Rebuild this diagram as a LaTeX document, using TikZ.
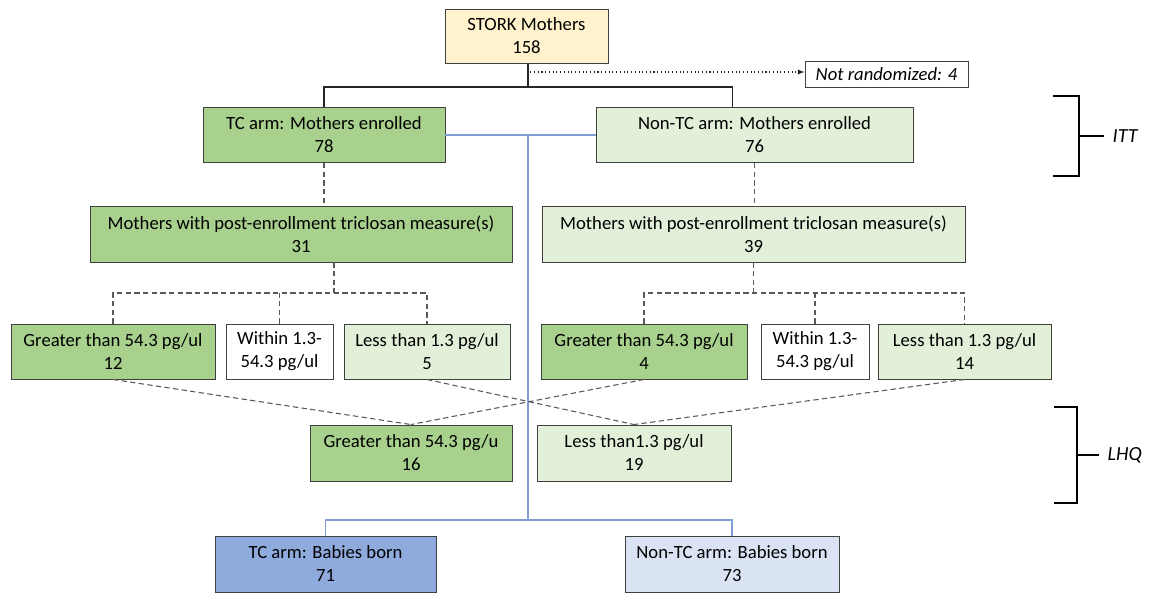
\documentclass[tikz,border=0pt]{standalone}
\usepackage{fontspec}
\setmainfont{Carlito}
\usetikzlibrary{arrows.meta, positioning}

\definecolor{giallo}{HTML}{FFF2CC}
\definecolor{verdescuro}{HTML}{A9D18E}
\definecolor{verdechiaro}{HTML}{E2F0D9}
\definecolor{blu}{HTML}{8FAADC}
\definecolor{bluchiaro}{HTML}{DAE3F3}
\definecolor{linea}{HTML}{7F9FD4}

\tikzset{
	box/.style={draw=black!75, line width=0.7pt, align=center, inner sep=0pt,
		font=\fontsize{14pt}{17.25pt}\selectfont},
	tratt/.style={black!65, line width=0.8pt, dash pattern=on 4pt off 2.5pt},
	filo/.style={black!85, line width=0.8pt},
	parentesi/.style={black, line width=1.4pt},
	etichetta/.style={anchor=west, font=\fontsize{15pt}{17pt}\selectfont\itshape},
}

\begin{document}
\begin{tikzpicture}[x=0.75pt, y=-0.75pt]
	
	\useasboundingbox (0,0) rectangle (1155,593);
	
	% Madri
	\node[box, fill=giallo, minimum width=122.25pt, minimum height=40.5pt] (stork) at (526.5,36) {STORK Mothers\\158};
	\node[box, minimum width=122.25pt, minimum height=19.5pt] (notrand) at (886.5,74) {\textit{Not randomized: 4}};
	
	% Bracci
	\node[box, fill=verdescuro, minimum width=181.5pt, minimum height=41.25pt] (tcarm) at (324,135) {TC arm: Mothers enrolled\\78};
	\node[box, fill=verdechiaro, minimum width=237.75pt, minimum height=41.25pt] (ntcarm) at (754.5,135) {Non-TC arm: Mothers enrolled\\76};
	
	% Misure post-arruolamento
	\node[box, fill=verdescuro, minimum width=316.5pt, minimum height=42pt] (tcpost) at (301,234) {Mothers with post-enrollment triclosan measure(s)\\31};
	\node[box, fill=verdechiaro, minimum width=317.25pt, minimum height=42pt] (ntcpost) at (753.5,234) {Mothers with post-enrollment triclosan measure(s)\\39};
	
	% Livelli TC
	\node[box, fill=verdescuro, minimum width=153pt, minimum height=41.25pt] (g12) at (113,351.5) {Greater than 54.3 pg/ul\\12};
	\node[box, fill=white, minimum width=80.25pt, minimum height=41.25pt] (w1) at (279.5,351.5) {Within 1.3-\\54.3 pg/ul};
	\node[box, fill=verdechiaro, minimum width=124.5pt, minimum height=41.25pt] (l5) at (427,351.5) {Less than 1.3 pg/ul\\5};
	
	% Livelli Non-TC
	\node[box, fill=verdescuro, minimum width=154.5pt, minimum height=41.25pt] (g4) at (644,351.5) {Greater than 54.3 pg/ul\\4};
	\node[box, fill=white, minimum width=81pt, minimum height=41.25pt] (w2) at (815,351.5) {Within 1.3-\\54.3 pg/ul};
	\node[box, fill=verdechiaro, minimum width=129.75pt, minimum height=41.25pt] (l14) at (964.5,351.5) {Less than 1.3 pg/ul\\14};
	
	% Gruppi LHQ
	\node[box, fill=verdescuro, minimum width=151.5pt, minimum height=42pt] (g16) at (411,453) {Greater than 54.3 pg/u\\16};
	\node[box, fill=verdechiaro, minimum width=145.5pt, minimum height=42pt] (l19) at (634,453) {Less than1.3 pg/ul\\19};
	
	% Bambini
	\node[box, fill=blu, minimum width=165.75pt, minimum height=42pt] (tcbaby) at (325.5,564) {TC arm: Babies born\\71};
	\node[box, fill=bluchiaro, minimum width=160.5pt, minimum height=42pt] (ntcbaby) at (732,564) {Non-TC arm: Babies born\\73};
	
	% Randomizzazione
	\coordinate (snodo) at (528,87);
	\draw[filo] (stork.south -| snodo) -- (snodo);
	\draw[filo] (tcarm.north) |- (snodo) -| ([xshift=-16.5pt]ntcarm.north);
	\draw[filo, dotted, -{Latex[length=5pt, width=4pt]}] (stork.south |- notrand.west) ++(0,-2) -- ([yshift=1.5pt]notrand.west);
	
	% Linee blu
	\coordinate (bsopra) at (528,135);
	\coordinate (bsotto) at (528,520);
	\draw[linea, line width=0.8pt] (tcarm.east) -- (ntcarm.west);
	\draw[linea, line width=0.8pt] (bsopra) -- (bsotto);
	\draw[linea, line width=0.8pt] (tcbaby.north) |- (bsotto) -| (ntcbaby.north);
	
	% Tratteggi braccio TC
	\coordinate (tsplit) at (334,293);
	\draw[tratt] (tcarm.south) -- (tcarm.south |- tcpost.north);
	\draw[tratt] (tcpost.south -| tsplit) -- (tsplit);
	\draw[tratt] (g12.north) |- (tsplit) -| (l5.north);
	\draw[tratt] (w1.north) -- (w1.north |- tsplit);
	
	% Tratteggi braccio Non-TC
	\coordinate (nsplit) at (753.5,293);
	\draw[tratt] (ntcarm.south) -- (ntcarm.south |- ntcpost.north);
	\draw[tratt] (ntcpost.south) -- (nsplit);
	\draw[tratt] (g4.north) |- (nsplit) -| (l14.north);
	\draw[tratt] (w2.north) -- (w2.north |- nsplit);
	
	% Incroci verso LHQ
	\draw[tratt] (g12.south) -- (g16.north);
	\draw[tratt] (g4.south) -- (g16.north);
	\draw[tratt] (l5.south) -- (l19.north);
	\draw[tratt] (l14.south) -- (l19.north);
	
	% Parentesi ITT e LHQ
	\draw[parentesi] (1053,96) -- (1079,96) -- (1079,176) -- (1053,176);
	\node[etichetta] (itt) at (1108,136) {ITT};
	\draw[parentesi] (1079,136) -- ([xshift=-3pt]itt.west);
	\draw[parentesi] (1054,407) -- (1077,407) -- (1077,503) -- (1054,503);
	\node[etichetta] (lhq) at (1103,455) {LHQ};
	\draw[parentesi] (1077,455) -- ([xshift=-3pt]lhq.west);
	
\end{tikzpicture}
\end{document}
